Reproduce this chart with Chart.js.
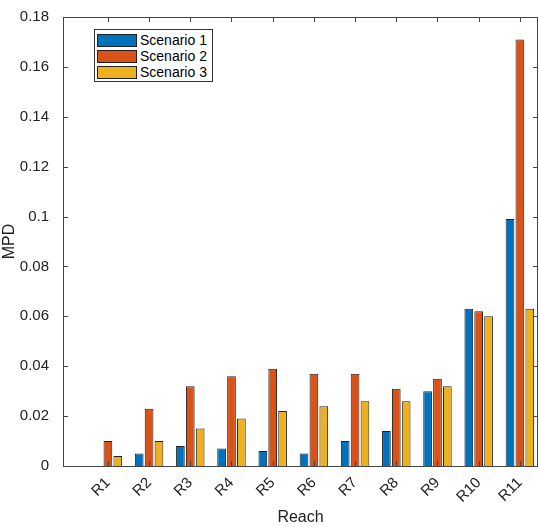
<!DOCTYPE html>
<html>
<head>
<meta charset="UTF-8">
<script src="https://cdn.jsdelivr.net/npm/chart.js"></script>
<style>
  body { margin: 0; background: #fff; }
  #wrap { position: relative; width: 539px; height: 527px; }
  #legend { position: absolute; left: 94px; top: 29px; border: 1px solid #333; background: #fff;
    font: 14px "Liberation Sans", Arial, sans-serif; padding: 2px 5px 1px 2px; }
  #legend div { display: flex; align-items: center; height: 16px; }
  #legend span.sw { width: 38px; height: 11px; border: 1px solid #222; margin-right: 3px; display: inline-block; }
</style>
</head>
<body>
<div id="wrap">
  <canvas id="c" width="539" height="527"></canvas>
  <div id="legend"></div>
</div>
<script>
const reaches = ["R1","R2","R3","R4","R5","R6","R7","R8","R9","R10","R11"];
const scenario1 = [0.000, 0.005, 0.008, 0.007, 0.006, 0.005, 0.010, 0.014, 0.030, 0.063, 0.099];
const scenario2 = [0.010, 0.023, 0.032, 0.036, 0.039, 0.037, 0.037, 0.031, 0.035, 0.062, 0.171];
const scenario3 = [0.004, 0.010, 0.015, 0.019, 0.022, 0.024, 0.026, 0.026, 0.032, 0.060, 0.063];
const names = ["Scenario 1", "Scenario 2", "Scenario 3"];
const colors = ["#0072BD", "#D95319", "#EDB120"];

const leg = document.getElementById("legend");
names.forEach((n, i) => {
  leg.innerHTML += `<div><span class="sw" style="background:${colors[i]}"></span>${n}</div>`;
});

// box around plot area with inward tick marks, MATLAB style
const boxPlugin = {
  id: "box",
  afterDraw(chart) {
    const { ctx, chartArea: a, scales } = chart;
    ctx.save();
    ctx.strokeStyle = "#444";
    ctx.lineWidth = 1;
    ctx.strokeRect(a.left + 0.5, a.top + 0.5, a.right - a.left - 1, a.bottom - a.top);
    ctx.beginPath();
    scales.y.ticks.forEach(t => {
      const y = Math.round(scales.y.getPixelForValue(t.value)) + 0.5;
      ctx.moveTo(a.left, y); ctx.lineTo(a.left + 5, y);
      ctx.moveTo(a.right, y); ctx.lineTo(a.right - 5, y);
    });
    reaches.forEach((r, i) => {
      const x = Math.round(scales.x.getPixelForValue(i)) + 0.5;
      ctx.moveTo(x, a.bottom); ctx.lineTo(x, a.bottom - 5);
      ctx.moveTo(x, a.top); ctx.lineTo(x, a.top + 5);
    });
    ctx.stroke();
    ctx.restore();
  }
};

const font = { family: "'Liberation Sans', Arial, sans-serif", size: 15 };
new Chart(document.getElementById("c"), {
  type: "bar",
  data: {
    datasets: [scenario1, scenario2, scenario3].map((d, i) => ({
      label: names[i], data: d.map((y, j) => ({ x: j, y })), backgroundColor: colors[i],
      borderColor: "#222", borderWidth: 1,
      categoryPercentage: 0.72, barPercentage: 0.88
    }))
  },
  options: {
    responsive: false, animation: false,
    layout: { padding: { top: 17, right: 1, left: 0, bottom: 0 } },
    plugins: { legend: { display: false }, tooltip: { enabled: false } },
    scales: {
      x: {
        type: "linear", min: -1.09, max: 10.44, offset: false,
        grid: { display: false },
        border: { display: false },
        afterBuildTicks(s) { s.ticks = reaches.map((r, i) => ({ value: i })); },
        ticks: { color: "#222", font, maxRotation: 45, minRotation: 45, padding: 0,
          callback: v => reaches[v] ?? "" },
        title: { display: true, text: "Reach", color: "#222", font: { ...font, size: 16 }, padding: 0 },
        afterFit(s) { s.height = 61; }
      },
      y: {
        min: 0, max: 0.18,
        grid: { display: false },
        border: { display: false },
        ticks: { stepSize: 0.02, color: "#222", font, padding: 6,
          callback: v => +v.toFixed(2) },
        title: { display: true, text: "MPD", color: "#222", font: { ...font, size: 16 }, padding: 0 },
        afterFit(s) { s.width = 63; }
      }
    }
  },
  plugins: [boxPlugin]
});
</script>
</body>
</html>
